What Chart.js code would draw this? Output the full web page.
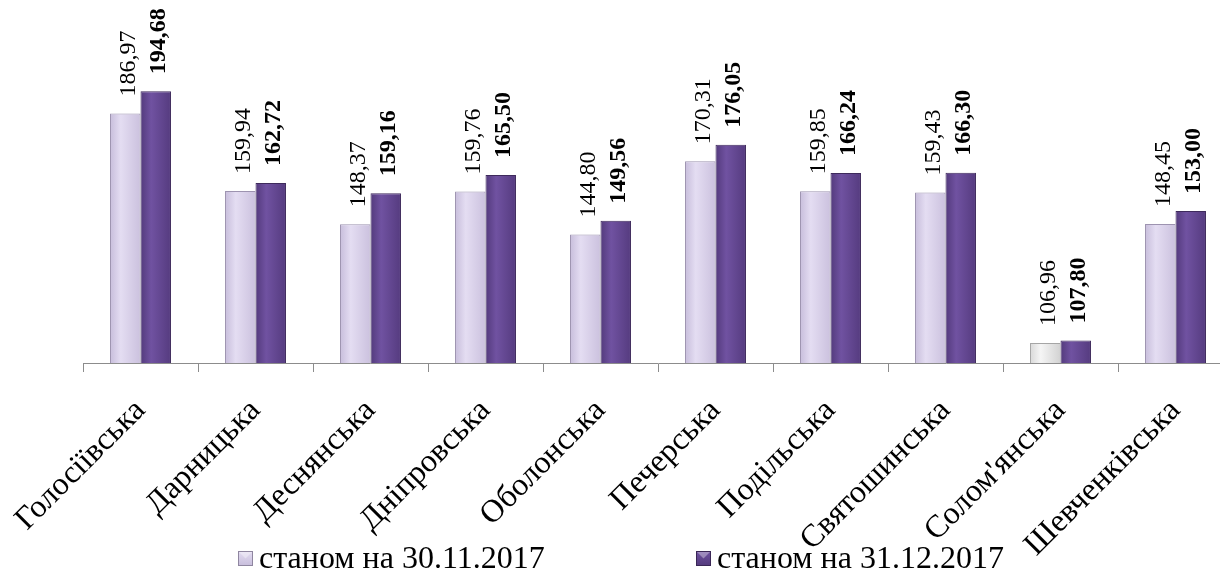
<!DOCTYPE html>
<html>
<head>
<meta charset="utf-8">
<script src="https://cdn.jsdelivr.net/npm/chart.js@4.4.1/dist/chart.umd.min.js"></script>
<style>
html, body { margin: 0; padding: 0; background: #fff; overflow: hidden; }
#wrap { position: relative; width: 1240px; height: 573px; }
</style>
</head>
<body>
<div id="wrap"><canvas id="c"></canvas></div>
<script>
var districts = ['Голосіївська', 'Дарницька', 'Деснянська', 'Дніпровська', 'Оболонська',
                 'Печерська', 'Подільська', 'Святошинська', "Солом'янська", 'Шевченківська'];
var nov2017 = [186.97, 159.94, 148.37, 159.76, 144.80, 170.31, 159.85, 159.43, 106.96, 148.45];
var dec2017 = [194.68, 162.72, 159.16, 165.50, 149.56, 176.05, 166.24, 166.30, 107.80, 153.00];
var seriesNames = ['станом на 30.11.2017', 'станом на 31.12.2017'];

var serif = "'Liberation Serif', 'DejaVu Serif', serif";
var catPct = 0.53;

// gradient stops: edge, highlight, edge
var lightStops = ['#c7bddb', '#e4ddf2', '#cbc1de'];
var darkStops = ['#533a7c', '#7052a1', '#553b7f'];
var greyStops = ['#d8d8d8', '#f5f5f5', '#d2d2d2'];

function barFill(side) {
    return function (c) {
        var ch = c.chart, x = ch.scales.x;
        var stops = side < 0 ? (c.dataIndex === 8 ? greyStops : lightStops) : darkStops;
        if (!x || c.dataIndex === undefined) return stops[1];
        var w = x.width / districts.length * catPct / 2;
        var cx = x.getPixelForValue(c.dataIndex);
        var left = side < 0 ? cx - w : cx;
        if (!isFinite(left) || !isFinite(w) || w <= 0) return stops[1];
        var g = ch.ctx.createLinearGradient(left, 0, left + w, 0);
        g.addColorStop(0, stops[0]);
        g.addColorStop(0.35, stops[1]);
        g.addColorStop(1, stops[2]);
        return g;
    };
}

var valueLabels = {
    id: 'valueLabels',
    afterDatasetsDraw: function (chart) {
        var ctx = chart.ctx;
        chart.data.datasets.forEach(function (ds, i) {
            chart.getDatasetMeta(i).data.forEach(function (bar, j) {
                ctx.save();
                ctx.translate(bar.x + 3, bar.y - 17);
                ctx.rotate(-Math.PI / 2);
                ctx.font = (i ? 'bold ' : '') + '24px ' + serif;
                ctx.fillStyle = '#000';
                ctx.textAlign = 'left';
                ctx.textBaseline = 'middle';
                ctx.fillText(ds.data[j].toFixed(2).replace('.', ','), 0, 0);
                ctx.restore();
            });
        });
    }
};

// legend under the axis labels, two items spread apart
var bottomLegend = {
    id: 'bottomLegend',
    afterDraw: function (chart) {
        var ctx = chart.ctx;
        var items = [{x: 238, stops: lightStops, edge: '#8f86a0'},
                     {x: 696, stops: darkStops, edge: '#3a2756'}];
        var top = 551, size = 15;
        items.forEach(function (it, i) {
            var g = ctx.createLinearGradient(it.x, top, it.x, top + size);
            g.addColorStop(0, it.stops[1]);
            g.addColorStop(1, it.stops[0]);
            ctx.fillStyle = g;
            ctx.fillRect(it.x, top, size, size);
            // small bevel
            ctx.fillStyle = 'rgba(255,255,255,0.35)';
            ctx.beginPath();
            ctx.moveTo(it.x, top);
            ctx.lineTo(it.x + size, top);
            ctx.lineTo(it.x + size / 2, top + size / 2);
            ctx.closePath();
            ctx.fill();
            ctx.strokeStyle = it.edge;
            ctx.lineWidth = 1;
            ctx.strokeRect(it.x + 0.5, top + 0.5, size - 1, size - 1);
            ctx.font = '32px ' + serif;
            ctx.fillStyle = '#000';
            ctx.textAlign = 'left';
            ctx.textBaseline = 'alphabetic';
            ctx.fillText(seriesNames[i], it.x + 21, 568);
        });
    }
};

function draw() {
    new Chart(document.getElementById('c'), {
        type: 'bar',
        data: {
            labels: districts,
            datasets: [
                {label: seriesNames[0], data: nov2017, backgroundColor: barFill(-1),
                 borderColor: function (c) { return c.dataIndex === 8 ? '#a5a5a5' : '#9d93b0'; },
                 borderWidth: 1},
                {label: seriesNames[1], data: dec2017, backgroundColor: barFill(1),
                 borderColor: '#3e2a5c', borderWidth: 1}
            ]
        },
        options: {
            responsive: true,
            maintainAspectRatio: false,
            animation: false,
            categoryPercentage: catPct,
            barPercentage: 1,
            layout: {padding: {left: 83, right: 7, top: 76, bottom: 0}},
            plugins: {legend: {display: false}, tooltip: {enabled: false}},
            scales: {
                y: {display: false, min: 100, max: 200},
                x: {
                    grid: {drawOnChartArea: false, color: '#8c8c8c', tickLength: 9},
                    border: {color: '#8c8c8c'},
                    ticks: {
                        autoSkip: false, minRotation: 45, maxRotation: 45, padding: 20,
                        color: '#000', font: {family: serif, size: 32}
                    },
                    afterFit: function (s) {
                        s.height = 210;
                        s.paddingLeft = 0;
                        s.paddingRight = 0;
                    }
                }
            }
        },
        plugins: [valueLabels, bottomLegend]
    });
}

Promise.all([
    document.fonts.load("32px 'Liberation Serif'"),
    document.fonts.load("bold 24px 'Liberation Serif'")
]).then(draw, draw);
</script>
</body>
</html>
